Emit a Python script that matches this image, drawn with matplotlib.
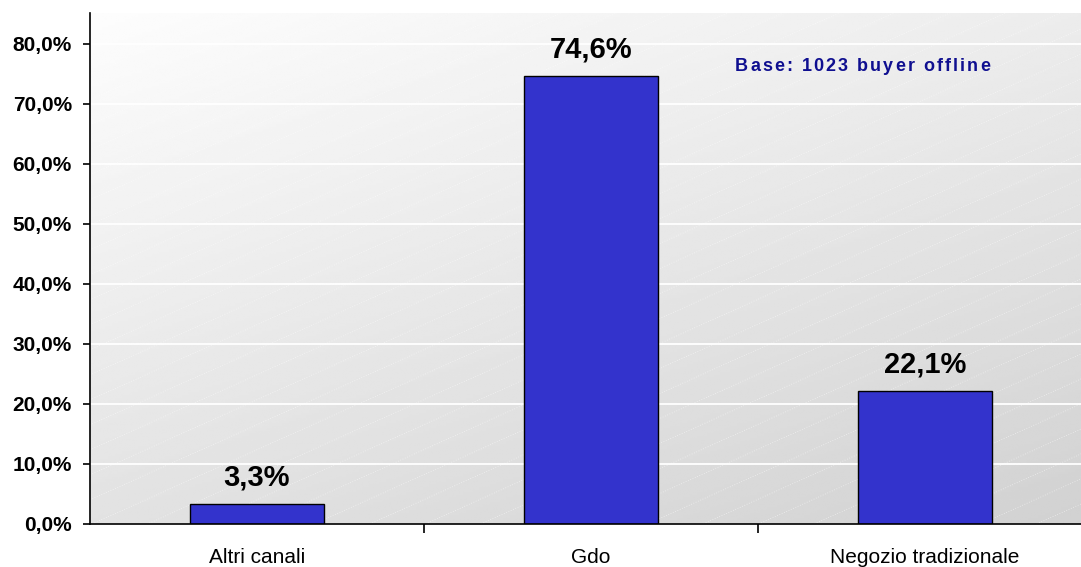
import numpy as np
import matplotlib
matplotlib.use('Agg')
import matplotlib.pyplot as plt
from matplotlib.font_manager import FontProperties
from matplotlib.textpath import TextToPath
from matplotlib.transforms import offset_copy
from matplotlib.ticker import FixedLocator, FuncFormatter

plt.rcParams['font.family'] = ['Liberation Sans', 'DejaVu Sans']

categories = ['Altri canali', 'Gdo', 'Negozio tradizionale']
shares = [3.3, 74.6, 22.1]
y_ticks = [0, 10, 20, 30, 40, 50, 60, 70, 80]
base_note = 'Base: 1023 buyer offline'

fig = plt.figure(figsize=(10.81, 5.67), dpi=100)
fig.patch.set_facecolor('white')
ax = fig.add_axes([90 / 1081, 43 / 567, 1002 / 1081, 511 / 567])

# diagonal grey gradient behind the plot
u, v = np.meshgrid(np.linspace(0, 1, 300), np.linspace(0, 1, 200))
shade = (253 - 17 * u - 27 * (1 - v)) / 255
ax.imshow(shade, cmap='gray', vmin=0, vmax=1, extent=[0, 1, 0, 1], origin='lower',
          transform=ax.transAxes, aspect='auto', zorder=0, interpolation='bilinear')

# faint dotted diagonal texture
slope = 0.45 * 1002 / 511
for b in np.arange(-slope, 1.0, 25 / 511):
    ax.plot([0, 1], [b, b + slope], transform=ax.transAxes, color='white', alpha=0.6,
            lw=0.6, ls=(0, (1, 2)), zorder=0.5, clip_on=True)

for t in y_ticks[1:]:
    ax.axhline(t, color='white', lw=1.3, zorder=1)

x = np.arange(len(categories))
ax.bar(x, shares, width=0.4, color='#3333CC', edgecolor='black', linewidth=1.0, zorder=2)

for xi, val in zip(x, shares):
    ax.annotate(f'{val:.1f}%'.replace('.', ','), (xi, val), xytext=(0, 13.5),
                textcoords='offset points', ha='center', va='baseline',
                fontsize=21, fontweight='bold', color='black', zorder=3)

ax.set_xlim(-0.5, 2.5)
ax.set_ylim(0, 511 / 6)

ax.yaxis.set_major_locator(FixedLocator(y_ticks))
ax.yaxis.set_major_formatter(FuncFormatter(lambda v, p: f'{v:.1f}%'.replace('.', ',')))
ax.tick_params(axis='y', direction='out', length=5, width=1.2, pad=8, labelsize=15)
for lab in ax.get_yticklabels():
    lab.set_fontweight('bold')

ax.set_xticks(x)
ax.set_xticklabels(categories, fontsize=15)
ax.set_xticks([0.5, 1.5], minor=True)
ax.tick_params(axis='x', which='major', length=0, pad=17)
ax.tick_params(axis='x', which='minor', direction='out', length=6.5, width=1.2)

for side in ('top', 'right'):
    ax.spines[side].set_visible(False)
for side in ('left', 'bottom'):
    ax.spines[side].set_linewidth(1.2)
    ax.spines[side].set_zorder(4)

# letter-spaced note, placed glyph by glyph
prop = FontProperties(family='Liberation Sans', weight='bold', size=13)
ttp = TextToPath()
widths = [ttp.get_text_width_height_descent(c, prop, ismath=False)[0] for c in base_note]
target_pt = 255 * 72 / 100
gap = (target_pt - sum(widths)) / (len(base_note) - 1)
pos = 0.0
for c, w in zip(base_note, widths):
    tr = offset_copy(fig.transFigure, fig=fig, x=pos, y=0, units='points')
    fig.text(735 / 1081, 1 - 71 / 567, c, transform=tr, fontproperties=prop,
             color='#0f0f90', ha='left', va='baseline')
    pos += w + gap

fig.savefig('out.png', dpi=100)
